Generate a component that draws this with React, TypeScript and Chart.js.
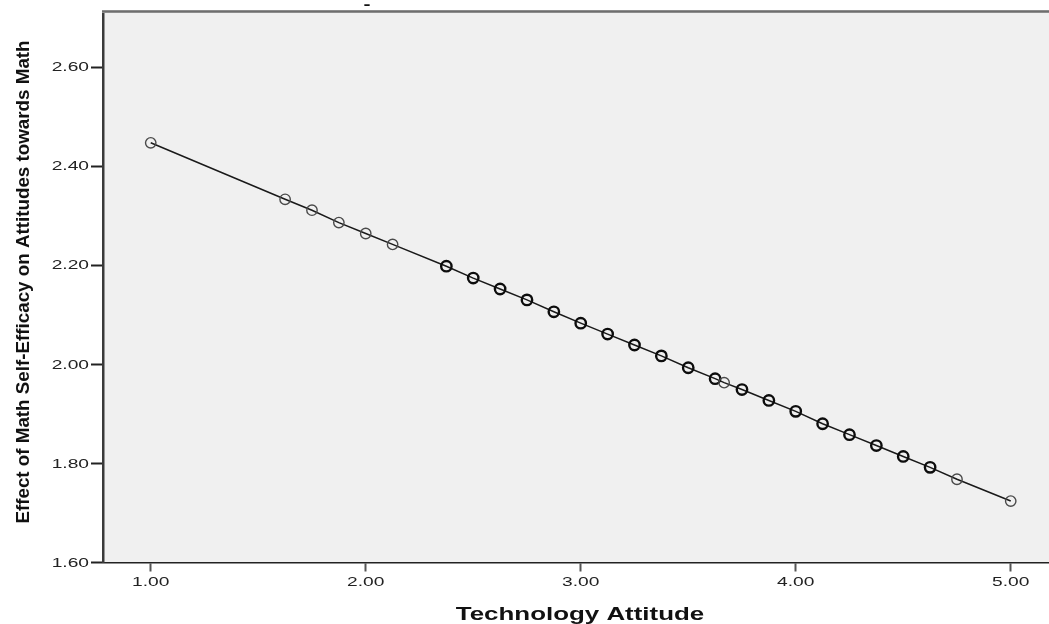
import React, { useEffect, useRef } from "react";
import { Chart, registerables } from "chart.js";

Chart.register(...registerables);

const xValues = [1.0, 1.625, 1.75, 1.875, 2.0, 2.125, 2.375, 2.5, 2.625, 2.75, 2.875, 3.0, 3.125, 3.25, 3.375, 3.5, 3.625, 3.667, 3.75, 3.875, 4.0, 4.125, 4.25, 4.375, 4.5, 4.625, 4.75, 5.0];
const yValues = [2.447, 2.333, 2.311, 2.286, 2.264, 2.242, 2.198, 2.174, 2.152, 2.13, 2.106, 2.083, 2.061, 2.039, 2.017, 1.993, 1.971, 1.963, 1.949, 1.927, 1.905, 1.88, 1.858, 1.836, 1.814, 1.792, 1.768, 1.724];
const lightPointXs = [1.0, 1.625, 1.75, 1.875, 2.0, 2.125, 3.667, 4.75, 5.0];

const xTicks = [1, 2, 3, 4, 5];
const yTicks = [1.6, 1.8, 2.0, 2.2, 2.4, 2.6];
const xTickLabels = ["1.00", "2.00", "3.00", "4.00", "5.00"];
const yTickLabels = ["1.60", "1.80", "2.00", "2.20", "2.40", "2.60"];

const xTitle = "Technology Attitude";
const yTitle = "Effect of Math Self-Efficacy on Attitudes towards Math";

const STRETCH = 1.42;

const decorPlugin = {
  id: "decor",
  beforeDraw(chart: any) {
    const { ctx, chartArea } = chart;
    ctx.save();
    ctx.fillStyle = "#f0f0f0";
    ctx.fillRect(chartArea.left, chartArea.top, chartArea.right - chartArea.left, chartArea.bottom - chartArea.top);
    ctx.restore();
  },
  afterDraw(chart: any) {
    const { ctx, chartArea, scales } = chart;
    ctx.save();
    // top border
    ctx.fillStyle = "#8c8c8c";
    ctx.fillRect(chartArea.left - 1, chartArea.top - 2, chartArea.right - chartArea.left + 1, 3);
    ctx.fillStyle = "#6e6e6e";
    ctx.fillRect(chartArea.left - 1, chartArea.top - 1, chartArea.right - chartArea.left + 1, 1);

    ctx.fillStyle = "#222";
    ctx.font = "13.5px 'Liberation Sans', Arial, sans-serif";
    // y tick labels
    ctx.textAlign = "right";
    ctx.textBaseline = "middle";
    yTicks.forEach((v, i) => {
      const y = scales.y.getPixelForValue(v);
      ctx.save();
      ctx.translate(89, y + 0.5);
      ctx.scale(STRETCH, 1);
      ctx.fillText(yTickLabels[i], 0, 0);
      ctx.restore();
    });
    // x tick labels
    ctx.textAlign = "center";
    ctx.textBaseline = "middle";
    xTicks.forEach((v, i) => {
      const x = scales.x.getPixelForValue(v);
      ctx.save();
      ctx.translate(x, 582);
      ctx.scale(STRETCH, 1);
      ctx.fillText(xTickLabels[i], 0, 0);
      ctx.restore();
    });
    // x title
    ctx.fillStyle = "#111";
    ctx.font = "bold 17.5px 'Liberation Sans', Arial, sans-serif";
    ctx.textAlign = "center";
    ctx.textBaseline = "alphabetic";
    ctx.save();
    ctx.translate(580, 620);
    ctx.scale(1.48, 1);
    ctx.fillText(xTitle, 0, 0);
    ctx.restore();
    // y title
    ctx.font = "bold 18.8px 'Liberation Sans', Arial, sans-serif";
    ctx.save();
    ctx.translate(29, 282);
    ctx.rotate(-Math.PI / 2);
    ctx.textAlign = "center";
    ctx.fillText(yTitle, 0, 0);
    ctx.restore();
    // small dash at top
    ctx.font = "bold 14px 'Liberation Sans', Arial, sans-serif";
    ctx.textAlign = "center";
    ctx.textBaseline = "middle";
    ctx.save();
    ctx.translate(367, 5);
    ctx.scale(1.5, 1);
    ctx.fillText("-", 0, 0);
    ctx.restore();
    ctx.restore();
  },
};

export default function App() {
  const ref = useRef<HTMLCanvasElement | null>(null);
  useEffect(() => {
    if (!ref.current) return;
    const data = xValues.map((x, i) => ({ x, y: yValues[i] }));
    const isLight = (ctx: any) => {
      const p = ctx.raw;
      return p && lightPointXs.includes(p.x);
    };
    const chart = new Chart(ref.current, {
      type: "scatter",
      data: {
        datasets: [
          {
            data,
            showLine: true,
            borderColor: "#1a1a1a",
            borderWidth: 1.5,
            pointRadius: 5.2,
            pointBackgroundColor: "rgba(0,0,0,0)",
            pointBorderColor: (c: any) => (isLight(c) ? "#4a4a4a" : "#0d0d0d"),
            pointBorderWidth: (c: any) => (isLight(c) ? 1.4 : 2.4),
          } as any,
        ],
      },
      options: {
        animation: false,
        responsive: false,
        layout: { autoPadding: false, padding: { left: 91, top: 12, right: 0, bottom: 52.5 } },
        plugins: { legend: { display: false }, tooltip: { enabled: false }, title: { display: false } },
        scales: {
          x: {
            type: "linear",
            min: 0.778,
            max: 5.178,
            afterBuildTicks: (s: any) => {
              s.ticks = xTicks.map((v) => ({ value: v }));
            },
            ticks: { display: false },
            grid: { drawOnChartArea: false, drawTicks: true, tickLength: 9, tickColor: "#555", tickWidth: 2 },
            border: { display: true, color: "#222", width: 1.5 },
            title: { display: false },
          },
          y: {
            type: "linear",
            min: 1.6,
            max: 2.711,
            afterBuildTicks: (s: any) => {
              s.ticks = yTicks.map((v) => ({ value: v }));
            },
            ticks: { display: false },
            grid: { drawOnChartArea: false, drawTicks: true, tickLength: 12, tickColor: "#222", tickWidth: 2 },
            border: { display: true, color: "#3a3a3a", width: 2.5 },
            title: { display: false },
          },
        },
      },
      plugins: [decorPlugin],
    });
    return () => chart.destroy();
  }, []);
  return (
    <div style={{ position: "absolute", left: 0, top: 0, width: 1049, height: 624, overflow: "hidden", background: "#fff" }}>
      <canvas ref={ref} width={1049} height={624} style={{ display: "block" }} />
    </div>
  );
}
